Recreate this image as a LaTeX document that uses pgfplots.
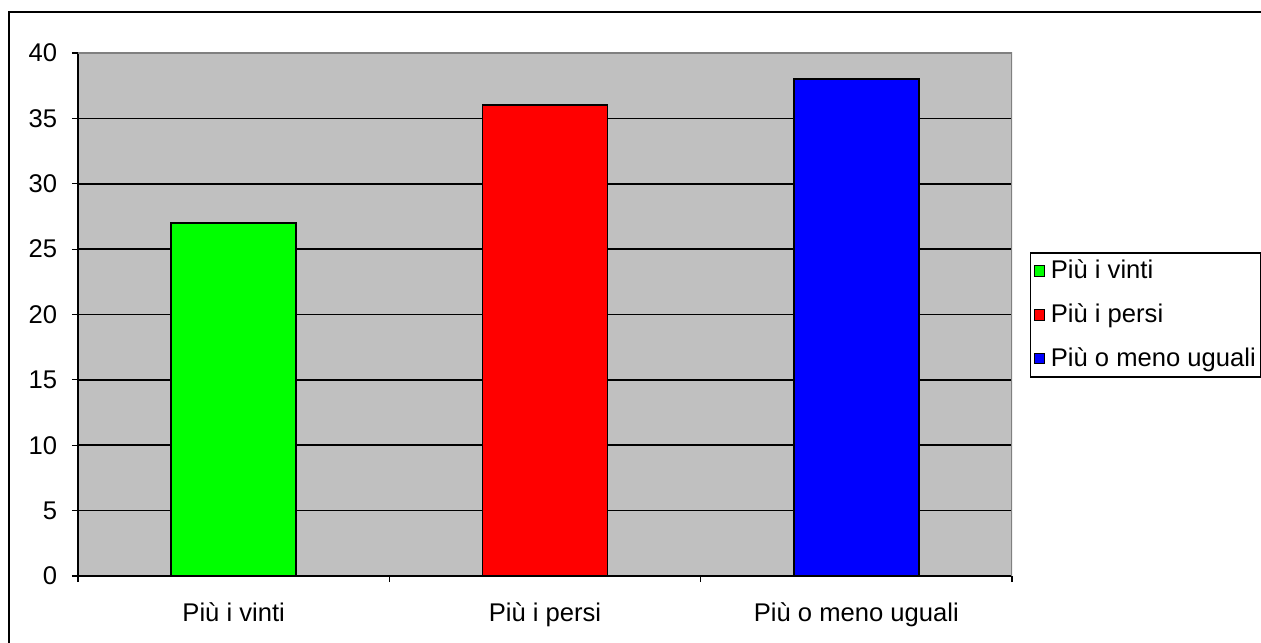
\documentclass[border=0pt]{standalone}
\usepackage{pgfplots}
\pgfplotsset{compat=1.18}
\usepackage{fontspec}
\setmainfont{Liberation Sans}
\definecolor{plotgray}{RGB}{192,192,192}
\begin{document}
\begin{tikzpicture}
\fontsize{12.8}{15}\selectfont
\begin{axis}[
  at={(0,0)}, anchor=south west,
  scale only axis, width=467pt, height=261.5pt,
  xmin=-0.5, xmax=2.5, ymin=0, ymax=40,
  /pgf/number format/assume math mode=true,
  axis x line*=bottom, axis y line*=left,
  axis line style={-, black, line width=0.8pt},
  axis background/.style={fill=plotgray},
  xtick={0,1,2},
  xticklabels={Più i vinti, Più i persi, Più o meno uguali},
  minor xtick={-0.5,0.5,1.5,2.5},
  major x tick style={draw=none},
  minor tick length=3pt, major tick length=3pt,
  tick align=outside,
  tick style={black, line width=0.6pt},
  ytick={0,5,...,40},
  ymajorgrids, grid style={black, line width=0.8pt},
  yticklabel style={font=\fontsize{12.8}{15}\selectfont, xshift=-3pt},
  xticklabel style={font=\fontsize{12.8}{15}\selectfont, yshift=-6pt},
  ybar, bar width=62.5pt, bar shift=0pt,
  legend style={at={(1.019,0.6195)}, anchor=north west, draw=black, line width=0.8pt,
    font=\fontsize{12.8}{15}\selectfont, inner sep=1.5pt, row sep=6.5pt,
    legend cell align=left, nodes={inner xsep=1pt}},
  legend image code/.code={\draw[#1, line width=0.5pt] (0pt,-2.6pt) rectangle (5.2pt,2.6pt); \path (7pt,0pt);},
]
\addplot[draw=black, fill={rgb,255:red,0;green,255;blue,0}, line width=0.8pt] coordinates {(0,27)};
\addplot[draw=black, fill={rgb,255:red,255;green,0;blue,0}, line width=0.8pt] coordinates {(1,36)};
\addplot[draw=black, fill={rgb,255:red,0;green,0;blue,255}, line width=0.8pt] coordinates {(2,38)};
\legend{Più i vinti, Più i persi, Più o meno uguali}
\draw[gray, line width=0.8pt] (rel axis cs:0,1) -- (rel axis cs:1,1) -- (rel axis cs:1,0);
\end{axis}
\draw[black, line width=1pt] (-34.5pt,-40pt) -- (-34.5pt,282pt) -- (600pt,282pt);
\pgfresetboundingbox
\useasboundingbox (-39pt,-33pt) rectangle (591.5pt,288pt);
\end{tikzpicture}
\end{document}
